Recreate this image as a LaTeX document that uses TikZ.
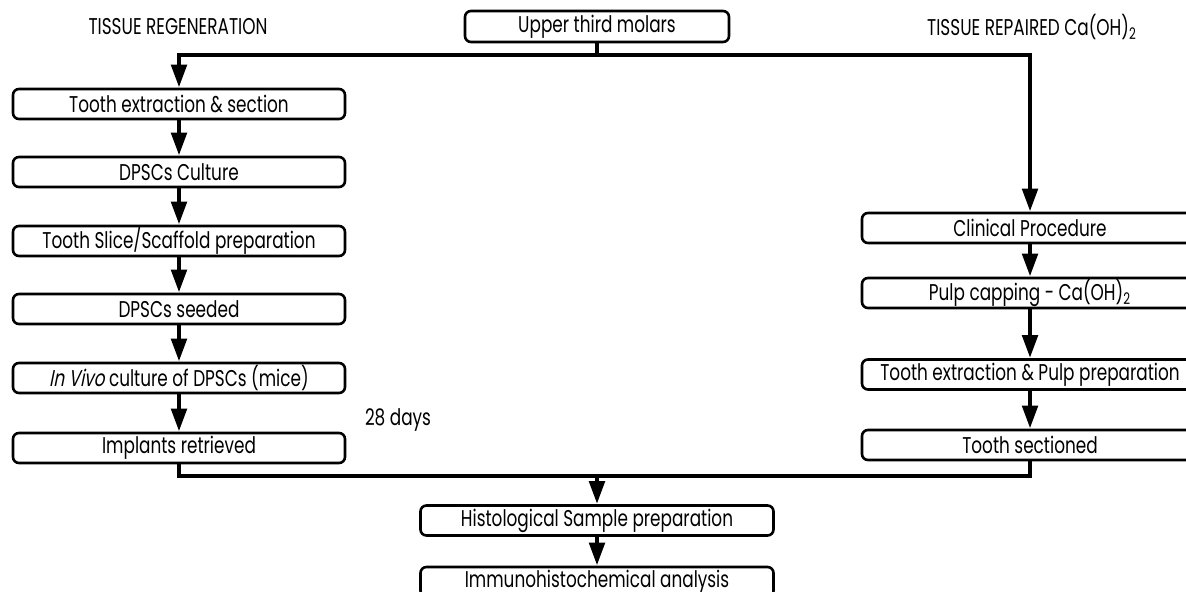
\documentclass[tikz,border=0pt]{standalone}
\usepackage{fontspec}
\setmainfont{Poppins}[FakeStretch=0.74,AutoFakeSlant=0.2]
\usetikzlibrary{arrows.meta}
\begin{document}
\begin{tikzpicture}[x=0.5pt,y=-0.5pt,
  font=\fontsize{11.4}{13}\selectfont,
  stepbox/.style={draw,line width=1.3pt,rounded corners=3pt,minimum height=15pt,inner sep=0pt},
  leftbox/.style={stepbox,minimum width=166pt},
  rightbox/.style={stepbox,minimum width=168pt},
  midbox/.style={stepbox,minimum width=176.5pt},
  flow/.style={line width=2.4pt},
  flowarrow/.style={flow,-{Triangle[length=11.5pt,width=7.5pt]}}]
\clip (0,0) rectangle (1186,592);
% Koordinaten
\coordinate (splittop) at (597,55);
\coordinate (joinbottom) at (597,476);

% Titel
\node (regeneration) at (178,27) {TISSUE REGENERATION};
\node (repaired) at (1032,27) {TISSUE REPAIRED Ca(OH)\textsubscript{2}};
\node[stepbox,minimum width=132pt,minimum height=15.5pt] (uppermolars) at (597,26.5) {Upper third molars};

% Linke Spalte
\node[leftbox] (toothextraction) at (179,104) {Tooth extraction \& section};
\node[leftbox] (dpscsculture) at (179,172) {DPSCs Culture};
\node[leftbox] (toothslice) at (179,241) {Tooth Slice/Scaffold preparation};
\node[leftbox] (dpscsseeded) at (179,309) {DPSCs seeded};
\node[leftbox] (invivoculture) at (179,378) {\textit{In Vivo} culture of DPSCs (mice)};
\node[leftbox] (implantsretrieved) at (179,448) {Implants retrieved};
\node (days) at (398,420) {28 days};

% Rechte Spalte
\node[rightbox] (clinicalprocedure) at (1030,228) {Clinical Procedure};
\node[rightbox] (pulpcapping) at (1030,293) {Pulp capping - Ca(OH)\textsubscript{2}};
\node[rightbox] (toothpulpextraction) at (1030,374.5) {Tooth extraction \& Pulp preparation};
\node[rightbox] (toothsectioned) at (1030,445) {Tooth sectioned};

% Unten
\node[midbox] (histosample) at (597,520.5) {Histological Sample preparation};
\node[midbox] (immunoanalysis) at (597,582) {Immunohistochemical analysis};

% Pfeile
\draw[flow] (uppermolars) -- (splittop);
\draw[flowarrow] (splittop) -| (toothextraction.north);
\draw[flowarrow] (splittop) -| (clinicalprocedure.north);
\draw[flowarrow] (toothextraction) -- (dpscsculture);
\draw[flowarrow] (dpscsculture) -- (toothslice);
\draw[flowarrow] (toothslice) -- (dpscsseeded);
\draw[flowarrow] (dpscsseeded) -- (invivoculture);
\draw[flowarrow] (invivoculture) -- (implantsretrieved);
\draw[flowarrow] (clinicalprocedure) -- (pulpcapping);
\draw[flowarrow] (pulpcapping) -- (toothpulpextraction);
\draw[flowarrow] (toothpulpextraction) -- (toothsectioned);
\draw[flow] (implantsretrieved) |- (joinbottom);
\draw[flow] (toothsectioned) |- (joinbottom);
\draw[flowarrow] (joinbottom) -- (histosample);
\draw[flowarrow] (histosample) -- (immunoanalysis);
\end{tikzpicture}
\end{document}
